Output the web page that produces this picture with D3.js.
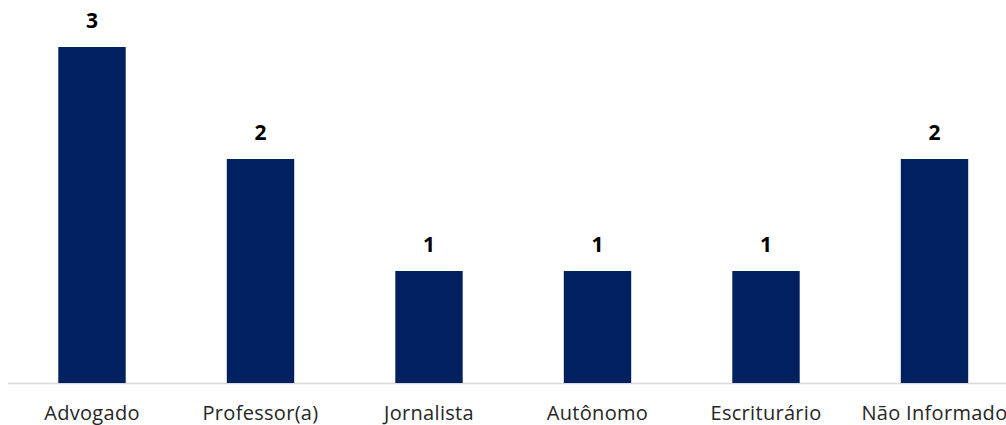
<!DOCTYPE html>
<html><head><meta charset="utf-8">
<script src="https://cdn.jsdelivr.net/npm/d3@7"></script>
<style>
html,body{margin:0;padding:0;background:#fff;overflow:hidden}
svg{display:block}
text{font-family:"Open Sans",sans-serif}
</style></head>
<body><svg id="c" width="1006" height="425"></svg>
<script>
const categories = ["Advogado","Professor(a)","Jornalista","Autônomo","Escriturário","Não Informado"];
const values = [3,2,1,1,1,2];

const W = 1006, H = 425;
const svg = d3.select("#c");
const x = d3.scaleBand().domain(categories).range([7.75, 1018.75]).paddingInner(0.6).paddingOuter(0.3);
const y = d3.scaleLinear().domain([0,3]).range([383,47]);

svg.append("line").attr("x1",8).attr("x2",W).attr("y1",383.5).attr("y2",383.5)
  .attr("stroke","#d9d9d9").attr("stroke-width",1.5);

svg.selectAll("rect.bar").data(values).join("rect").attr("class","bar")
  .attr("x",(d,i)=>x(categories[i]))
  .attr("width",x.bandwidth())
  .attr("y",d=>y(d))
  .attr("height",d=>y(0)-y(d))
  .attr("fill","#002060");

svg.selectAll("text.val").data(values).join("text").attr("class","val")
  .attr("x",(d,i)=>x(categories[i])+x.bandwidth()/2)
  .attr("y",d=>y(d)-19)
  .attr("text-anchor","middle")
  .attr("font-size",21).attr("font-weight","bold").attr("fill","#000")
  .text(d=>d);

svg.selectAll("text.cat").data(categories).join("text").attr("class","cat")
  .attr("x",d=>x(d)+x.bandwidth()/2)
  .attr("y",419.5)
  .attr("text-anchor","middle")
  .attr("font-size",20).attr("letter-spacing",0.3).attr("fill","#262626")
  .text(d=>d);
</script></body></html>
